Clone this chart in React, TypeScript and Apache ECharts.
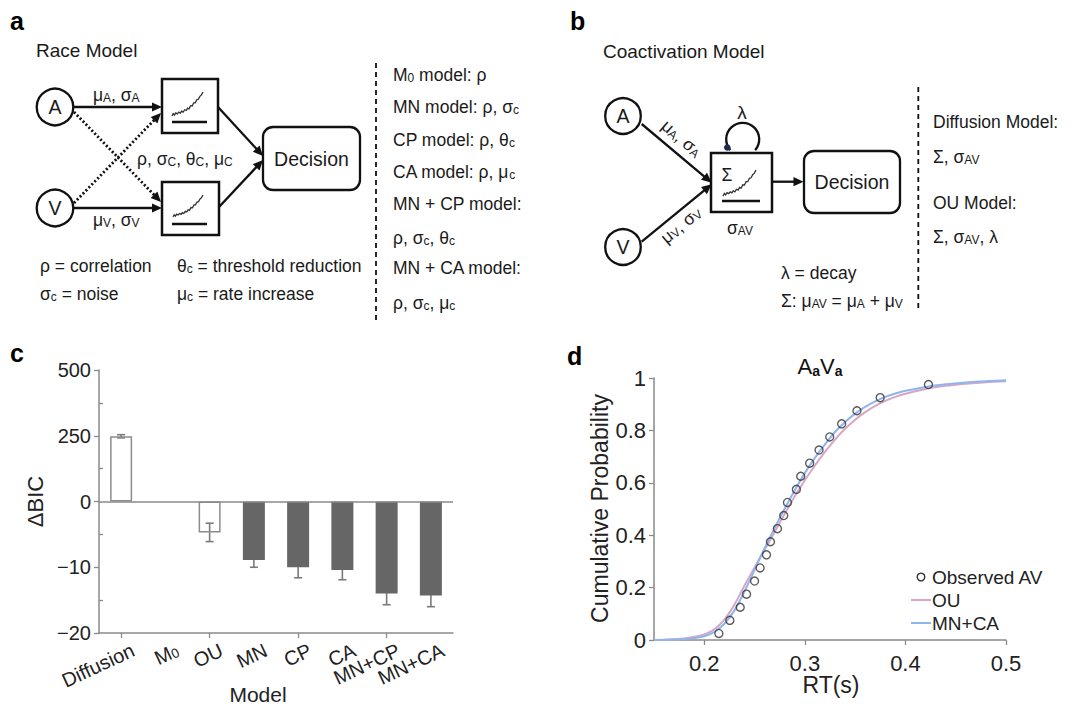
import { useEffect, useRef } from 'react';
import * as echarts from 'echarts';

const FONT = '"Liberation Sans", Arial, Helvetica, sans-serif';
const INK = '#111111';
const TXT = '#1a1a1a';
const AXIS = '#8a8a8a';
const BODY = 17.5;

// ---- Panel c data ----
const bicModels = ['Diffusion', 'M0', 'OU', 'MN', 'CP', 'CA', 'MN+CP', 'MN+CA'];
const bicMean = [248, 0, -4.7, -8.9, -10.0, -10.4, -14.0, -14.3];
const bicSem = [6, 0, 1.4, 1.1, 1.6, 1.5, 1.7, 1.7];
const bicOpen = [true, false, true, false, false, false, false, false];
const bicTickLabels = [-20, -10, 0, 250, 500];

// ---- Panel d data ----
const obsRT = [0.2145, 0.2254, 0.2357, 0.242, 0.25, 0.2555, 0.2618, 0.2658, 0.2727, 0.279, 0.2827, 0.2916, 0.2959, 0.3048, 0.3141, 0.3247, 0.3366, 0.3518, 0.3749, 0.4229];
const obsP = [0.025, 0.075, 0.125, 0.175, 0.225, 0.275, 0.325, 0.375, 0.425, 0.475, 0.525, 0.575, 0.625, 0.675, 0.725, 0.775, 0.825, 0.875, 0.925, 0.975];
const fitRT = [0.15, 0.16, 0.17, 0.18, 0.19, 0.2, 0.21, 0.22, 0.23, 0.24, 0.25, 0.26, 0.27, 0.28, 0.29, 0.3, 0.31, 0.32, 0.33, 0.34, 0.35, 0.36, 0.37, 0.38, 0.39, 0.4, 0.42, 0.44, 0.46, 0.48, 0.5];
const ouP = [0, 0.001, 0.003, 0.006, 0.012, 0.021, 0.041, 0.078, 0.135, 0.208, 0.277, 0.345, 0.412, 0.482, 0.549, 0.61, 0.666, 0.718, 0.765, 0.806, 0.841, 0.87, 0.894, 0.913, 0.928, 0.94, 0.958, 0.97, 0.978, 0.984, 0.988];
const mncaP = [0, 0.0005, 0.0015, 0.004, 0.008, 0.014, 0.031, 0.062, 0.113, 0.186, 0.268, 0.35, 0.428, 0.502, 0.572, 0.637, 0.695, 0.747, 0.794, 0.832, 0.864, 0.89, 0.911, 0.928, 0.941, 0.951, 0.966, 0.976, 0.983, 0.988, 0.991];
const rtTicks = [0.2, 0.3, 0.4, 0.5];

// broken ΔBIC scale: positive side in steps of 250, negative side in steps of 10
const POS_STEP = bicTickLabels[3];
const NEG_STEP = -bicTickLabels[1];
const toAxis = (v: number) => (v >= 0 ? v / POS_STEP : v / NEG_STEP);
const fromAxis = (a: number) => (a >= 0 ? a * POS_STEP : a * NEG_STEP);

// ---- text helpers ----
function fmt(t: string) {
  let out = '';
  const re = /\[([^\]]*)\]/g;
  let last = 0;
  let m: RegExpExecArray | null;
  while ((m = re.exec(t))) {
    if (m.index > last) out += `{n|${t.slice(last, m.index)}}`;
    out += `{s|${m[1]}}`;
    last = re.lastIndex;
  }
  if (last < t.length) out += `{n|${t.slice(last)}}`;
  return out;
}

function txt(x: number, y: number, t: string, size = BODY, o: any = {}) {
  const weight = o.weight || 'normal';
  const sub = o.sub || Math.round(size * 0.68);
  return {
    type: 'text',
    x,
    y,
    rotation: o.rotation || 0,
    z: 10,
    style: {
      text: fmt(t),
      fontSize: size,
      fontFamily: FONT,
      fontWeight: weight,
      fill: o.fill || TXT,
      align: o.align || 'left',
      verticalAlign: 'middle',
      rich: {
        n: { fontSize: size, fontFamily: FONT, fontWeight: weight, verticalAlign: 'bottom' },
        s: { fontSize: sub, fontFamily: FONT, fontWeight: weight, verticalAlign: 'bottom' },
      },
    },
  };
}

function seg(x1: number, y1: number, x2: number, y2: number, o: any = {}) {
  return {
    type: 'line',
    shape: { x1, y1, x2, y2 },
    style: { stroke: o.stroke || INK, lineWidth: o.lw || 2.3, lineDash: o.dash || null },
  };
}

function arrow(x1: number, y1: number, x2: number, y2: number, dotted = false) {
  const dx = x2 - x1, dy = y2 - y1;
  const len = Math.hypot(dx, dy);
  const ux = dx / len, uy = dy / len;
  const L = 10, W = 4.6;
  const bx = x2 - ux * L, by = y2 - uy * L;
  return [
    seg(x1, y1, bx + ux * 2, by + uy * 2, dotted ? { lw: 2.8, dash: [2, 2.2] } : {}),
    {
      type: 'polygon',
      shape: { points: [[x2, y2], [bx - uy * W, by + ux * W], [bx + uy * W, by - ux * W]] },
      style: { fill: INK },
    },
  ];
}

function circ(cx: number, cy: number, r: number, label: string) {
  return [
    { type: 'circle', shape: { cx, cy, r }, style: { fill: '#fff', stroke: INK, lineWidth: 2.3 } },
    txt(cx, cy, label, 19.5, { align: 'center' }),
  ];
}

function box(x: number, y: number, w: number, h: number, r = 0) {
  return {
    type: 'rect',
    shape: { x, y, width: w, height: h, r },
    style: { fill: 'none', stroke: INK, lineWidth: r ? 2.3 : 2.5 },
  };
}

const SQ = [[0, 0], [0.04, 0.1], [0.08, 0.04], [0.12, 0.13], [0.17, 0.09], [0.22, 0.16], [0.27, 0.12], [0.31, 0.2], [0.36, 0.16], [0.41, 0.26], [0.46, 0.23], [0.5, 0.33], [0.55, 0.3], [0.6, 0.43], [0.65, 0.42], [0.7, 0.55], [0.75, 0.55], [0.8, 0.68], [0.85, 0.7], [0.9, 0.82], [0.95, 0.88], [1, 1]];
function squiggle(sx: number, sy: number, w: number, h: number) {
  return {
    type: 'polyline',
    shape: { points: SQ.map(([u, v]) => [sx + u * w, sy - v * h]) },
    style: { stroke: '#333', lineWidth: 1.3, fill: 'none' },
  };
}

function diagramElements() {
  const a: any[] = [
    txt(10, 21, 'a', 25, { weight: 'bold', fill: '#000' }),
    txt(36, 50, 'Race Model', 19),
    ...circ(55, 107, 18.3, 'A'),
    ...circ(55, 208, 18.3, 'V'),
    box(162, 79, 56, 54),
    box(162, 182, 57, 53),
    squiggle(172, 116, 31, 24),
    seg(172, 122, 207, 122),
    squiggle(173, 217, 30, 22),
    seg(172, 224, 207, 224),
    box(263, 127, 97, 63, 10),
    txt(311.5, 158.5, 'Decision', 19.5, { align: 'center' }),
    ...arrow(73.5, 107, 162, 107),
    ...arrow(73.5, 208, 162, 208),
    ...arrow(74, 112, 161, 202, true),
    ...arrow(74, 203, 161, 113, true),
    ...arrow(218, 107, 263, 156),
    ...arrow(219, 207, 263, 160),
    txt(93, 95, 'μ[A], σ[A]', BODY),
    txt(93, 220, 'μ[V], σ[V]', BODY),
    txt(137, 159, 'ρ, σ[C], θ[C], μ[C]', BODY),
    txt(40, 266, 'ρ = correlation', BODY),
    txt(40, 294, 'σ[c] = noise', BODY),
    txt(177, 266, 'θ[c] = threshold reduction', BODY),
    txt(177, 294, 'μ[c] = rate increase', BODY),
    seg(376, 63, 376, 322, { lw: 1.8, dash: [5, 4] }),
    txt(393, 75, 'M[0] model: ρ', BODY),
    txt(393, 107, 'MN model: ρ, σ[c]', BODY),
    txt(393, 140, 'CP model: ρ, θ[c]', BODY),
    txt(393, 172, 'CA model: ρ, μ[c]', BODY),
    txt(393, 204, 'MN + CP model:', BODY),
    txt(393, 238, 'ρ, σ[c], θ[c]', BODY),
    txt(393, 268, 'MN + CA model:', BODY),
    txt(393, 303, 'ρ, σ[c], μ[c]', BODY),
  ];
  const b: any[] = [
    txt(570, 21, 'b', 25, { weight: 'bold', fill: '#000' }),
    txt(603, 51, 'Coactivation Model', 19),
    ...circ(623, 116, 17.8, 'A'),
    ...circ(623, 247, 17.8, 'V'),
    box(711, 153, 61, 59),
    txt(727, 175, 'Σ', BODY, { align: 'center' }),
    squiggle(723, 196, 33, 26),
    seg(722, 201, 760, 201),
    {
      type: 'arc',
      shape: { cx: 742.7, cy: 139.3, r: 16.5, startAngle: (139 * Math.PI) / 180, endAngle: (401 * Math.PI) / 180, clockwise: true },
      style: { stroke: INK, lineWidth: 2.3, fill: 'none' },
    },
    { type: 'circle', shape: { cx: 727.3, cy: 147.5, r: 3.3 }, style: { fill: '#1b2a4e' } },
    txt(742, 112, 'λ', 19, { align: 'center' }),
    txt(740, 227.5, 'σ[AV]', BODY, { align: 'center' }),
    ...arrow(641.7, 124, 711.7, 182.7),
    ...arrow(641.7, 241.7, 711.7, 184.3),
    ...arrow(771.7, 181.7, 803.5, 181.7),
    box(804, 151, 96, 62, 10),
    txt(852, 182, 'Decision', 19.5, { align: 'center' }),
    txt(681.7, 138.3, 'μ[A], σ[A]', BODY, { align: 'center', rotation: -0.71 }),
    txt(681, 225, 'μ[V], σ[V]', BODY, { align: 'center', rotation: 0.69 }),
    seg(918.3, 87, 918.3, 312, { lw: 1.8, dash: [5, 4] }),
    txt(933, 122, 'Diffusion Model:', BODY),
    txt(933, 157, 'Σ, σ[AV]', BODY),
    txt(933, 203, 'OU Model:', BODY),
    txt(933, 237, 'Σ, σ[AV], λ', BODY),
    txt(781, 272.5, 'λ = decay', BODY),
    txt(781, 301, 'Σ: μ[AV] = μ[A] + μ[V]', BODY),
  ];
  const c: any[] = [
    txt(10, 353, 'c', 25, { weight: 'bold', fill: '#000' }),
    txt(35.5, 501.5, 'ΔBIC', 22, { align: 'center', rotation: Math.PI / 2, fill: '#222' }),
    txt(258, 694, 'Model', 21, { align: 'center', fill: '#222' }),
  ];
  const d: any[] = [
    txt(567, 356, 'd', 25, { weight: 'bold', fill: '#000' }),
    {
      type: 'text',
      x: 820,
      y: 366.5,
      z: 10,
      style: {
        text: '{A|A}{a|a}{A|V}{a|a}',
        align: 'center',
        verticalAlign: 'middle',
        fill: '#111',
        fontFamily: FONT,
        fontSize: 22,
        rich: {
          A: { fontSize: 22, fontFamily: FONT, verticalAlign: 'bottom' },
          a: { fontSize: 14, fontFamily: FONT, fontWeight: 'bold', verticalAlign: 'bottom' },
        },
      },
    },
    txt(600, 508.5, 'Cumulative Probability', 23, { align: 'center', rotation: Math.PI / 2, fill: '#222' }),
    txt(831, 685, 'RT(s)', 23, { align: 'center', fill: '#222' }),
    { type: 'circle', shape: { cx: 921, cy: 577, r: 3.8 }, style: { fill: 'none', stroke: '#333', lineWidth: 1.4 } },
    txt(932, 577, 'Observed AV', 19, { fill: '#222' }),
    seg(911, 600, 931, 600, { stroke: '#d7a6c6', lw: 2 }),
    txt(932, 600, 'OU', 19, { fill: '#222' }),
    seg(911, 623, 931, 623, { stroke: '#8fb5ec', lw: 2 }),
    txt(932, 623, 'MN+CA', 19, { fill: '#222' }),
  ];
  return [...a, ...b, ...c, ...d];
}

function buildOption(): any {
  const axisLine = { show: true, onZero: false, lineStyle: { color: AXIS, width: 1.5 } };
  return {
    animation: false,
    backgroundColor: '#ffffff',
    textStyle: { fontFamily: FONT },
    grid: [
      { left: 99, top: 370, width: 354, height: 263, outerBoundsMode: 'none', containLabel: false },
      { left: 654, top: 378, width: 352, height: 262, outerBoundsMode: 'none', containLabel: false },
    ],
    xAxis: [
      {
        type: 'category',
        gridIndex: 0,
        data: bicModels,
        axisLine,
        axisTick: { show: true, alignWithLabel: true, length: 5, lineStyle: { color: AXIS, width: 1.3 } },
        axisLabel: { show: false },
        splitLine: { show: false },
      },
      {
        type: 'value',
        gridIndex: 1,
        min: 0.15,
        max: 0.5,
        axisLine,
        axisTick: { show: true, length: 5, customValues: rtTicks, lineStyle: { color: AXIS, width: 1.3 } },
        axisLabel: {
          customValues: rtTicks,
          fontSize: 22,
          color: '#222',
          fontFamily: FONT,
          margin: 12,
          formatter: (v: number) => v.toFixed(1),
        },
        splitLine: { show: false },
      },
    ],
    yAxis: [
      {
        type: 'value',
        gridIndex: 0,
        position: 'left',
        min: -2,
        max: 2,
        interval: 1,
        axisLine,
        axisTick: { show: true, length: 5, lineStyle: { color: AXIS, width: 1.3 } },
        axisLabel: {
          fontSize: 20,
          color: '#222',
          fontFamily: FONT,
          margin: 8,
          formatter: (v: number) => {
            const r = Math.round(fromAxis(v));
            return r < 0 ? '\u2212' + Math.abs(r) : String(r);
          },
        },
        splitLine: { show: false },
      },
      {
        type: 'value',
        gridIndex: 0,
        position: 'left',
        min: -2,
        max: 2,
        axisLine: { show: false },
        axisTick: { show: true, inside: true, length: 4, customValues: [-1.5, -0.5, 0.5, 1.5], lineStyle: { color: AXIS, width: 1.3 } },
        axisLabel: { show: false },
        splitLine: { show: false },
      },
      {
        type: 'value',
        gridIndex: 1,
        min: 0,
        max: 1,
        interval: 0.2,
        axisLine,
        axisTick: { show: true, length: 5, lineStyle: { color: AXIS, width: 1.3 } },
        axisLabel: {
          fontSize: 22,
          color: '#222',
          fontFamily: FONT,
          margin: 8,
          formatter: (v: number) => String(parseFloat(v.toFixed(1))),
        },
        splitLine: { show: false },
      },
    ],
    series: [
      {
        type: 'custom',
        name: 'SEM',
        xAxisIndex: 0,
        yAxisIndex: 0,
        z: 1,
        data: bicMean
          .map((m, i) => [i, toAxis(m - bicSem[i]), toAxis(m + bicSem[i])])
          .filter((_, i) => bicSem[i] > 0),
        encode: { x: 0, y: [1, 2] },
        renderItem: (_p: any, api: any) => {
          const x = api.value(0);
          const p1 = api.coord([x, api.value(1)]);
          const p2 = api.coord([x, api.value(2)]);
          const w = 4;
          const style = { stroke: '#7a7a7a', lineWidth: 1.6 };
          return {
            type: 'group',
            children: [
              { type: 'line', shape: { x1: p1[0], y1: p1[1], x2: p2[0], y2: p2[1] }, style },
              { type: 'line', shape: { x1: p1[0] - w, y1: p1[1], x2: p1[0] + w, y2: p1[1] }, style },
              { type: 'line', shape: { x1: p2[0] - w, y1: p2[1], x2: p2[0] + w, y2: p2[1] }, style },
            ],
          };
        },
      },
      {
        type: 'bar',
        name: 'ΔBIC',
        xAxisIndex: 0,
        yAxisIndex: 0,
        barWidth: 22,
        z: 3,
        data: bicMean.map((v, i) => ({
          value: toAxis(v),
          itemStyle: bicOpen[i]
            ? { color: 'rgba(255,255,255,0)', borderColor: '#8c8c8c', borderWidth: 1.5 }
            : v === 0
              ? { color: 'rgba(0,0,0,0)', borderWidth: 0 }
              : { color: '#666666', borderWidth: 0 },
        })),
        markLine: {
          silent: true,
          symbol: ['none', 'none'],
          label: { show: false },
          lineStyle: { color: AXIS, width: 1.5, type: 'solid' },
          data: [{ yAxis: 0 }],
        },
      },
      {
        type: 'line',
        name: 'OU',
        xAxisIndex: 1,
        yAxisIndex: 2,
        data: fitRT.map((x, i) => [x, ouP[i]]),
        showSymbol: false,
        smooth: 0.3,
        lineStyle: { color: '#d7a6c6', width: 2 },
        z: 2,
      },
      {
        type: 'line',
        name: 'MN+CA',
        xAxisIndex: 1,
        yAxisIndex: 2,
        data: fitRT.map((x, i) => [x, mncaP[i]]),
        showSymbol: false,
        smooth: 0.3,
        lineStyle: { color: '#8fb5ec', width: 2 },
        z: 3,
      },
      {
        type: 'scatter',
        name: 'Observed AV',
        xAxisIndex: 1,
        yAxisIndex: 2,
        data: obsRT.map((x, i) => [x, obsP[i]]),
        symbol: 'circle',
        symbolSize: 8,
        itemStyle: { color: 'rgba(255,255,255,0)', borderColor: '#333', borderWidth: 1.4 },
        z: 5,
      },
    ],
  };
}

export default function App() {
  const ref = useRef<HTMLDivElement>(null);
  useEffect(() => {
    document.body.style.margin = '0';
    const chart = echarts.init(ref.current as HTMLDivElement, null, { renderer: 'svg', width: 1078, height: 704 });
    chart.setOption(buildOption());
    const baseY = chart.convertToPixel({ yAxisIndex: 0 }, -2) as number;
    const catLabels = bicModels.map((m, i) => {
      const px = chart.convertToPixel({ xAxisIndex: 0 }, i) as number;
      return txt(px + 12, baseY + 16, m === 'M0' ? 'M[0]' : m, 20, {
        align: 'right',
        rotation: (25 * Math.PI) / 180,
        fill: '#222',
        sub: 13.5,
      });
    });
    chart.setOption({ graphic: [...diagramElements(), ...catLabels] });
    return () => chart.dispose();
  }, []);
  return (
    <div
      ref={ref}
      style={{ position: 'fixed', left: 0, top: 0, width: 1078, height: 704, background: '#fff' }}
    />
  );
}
